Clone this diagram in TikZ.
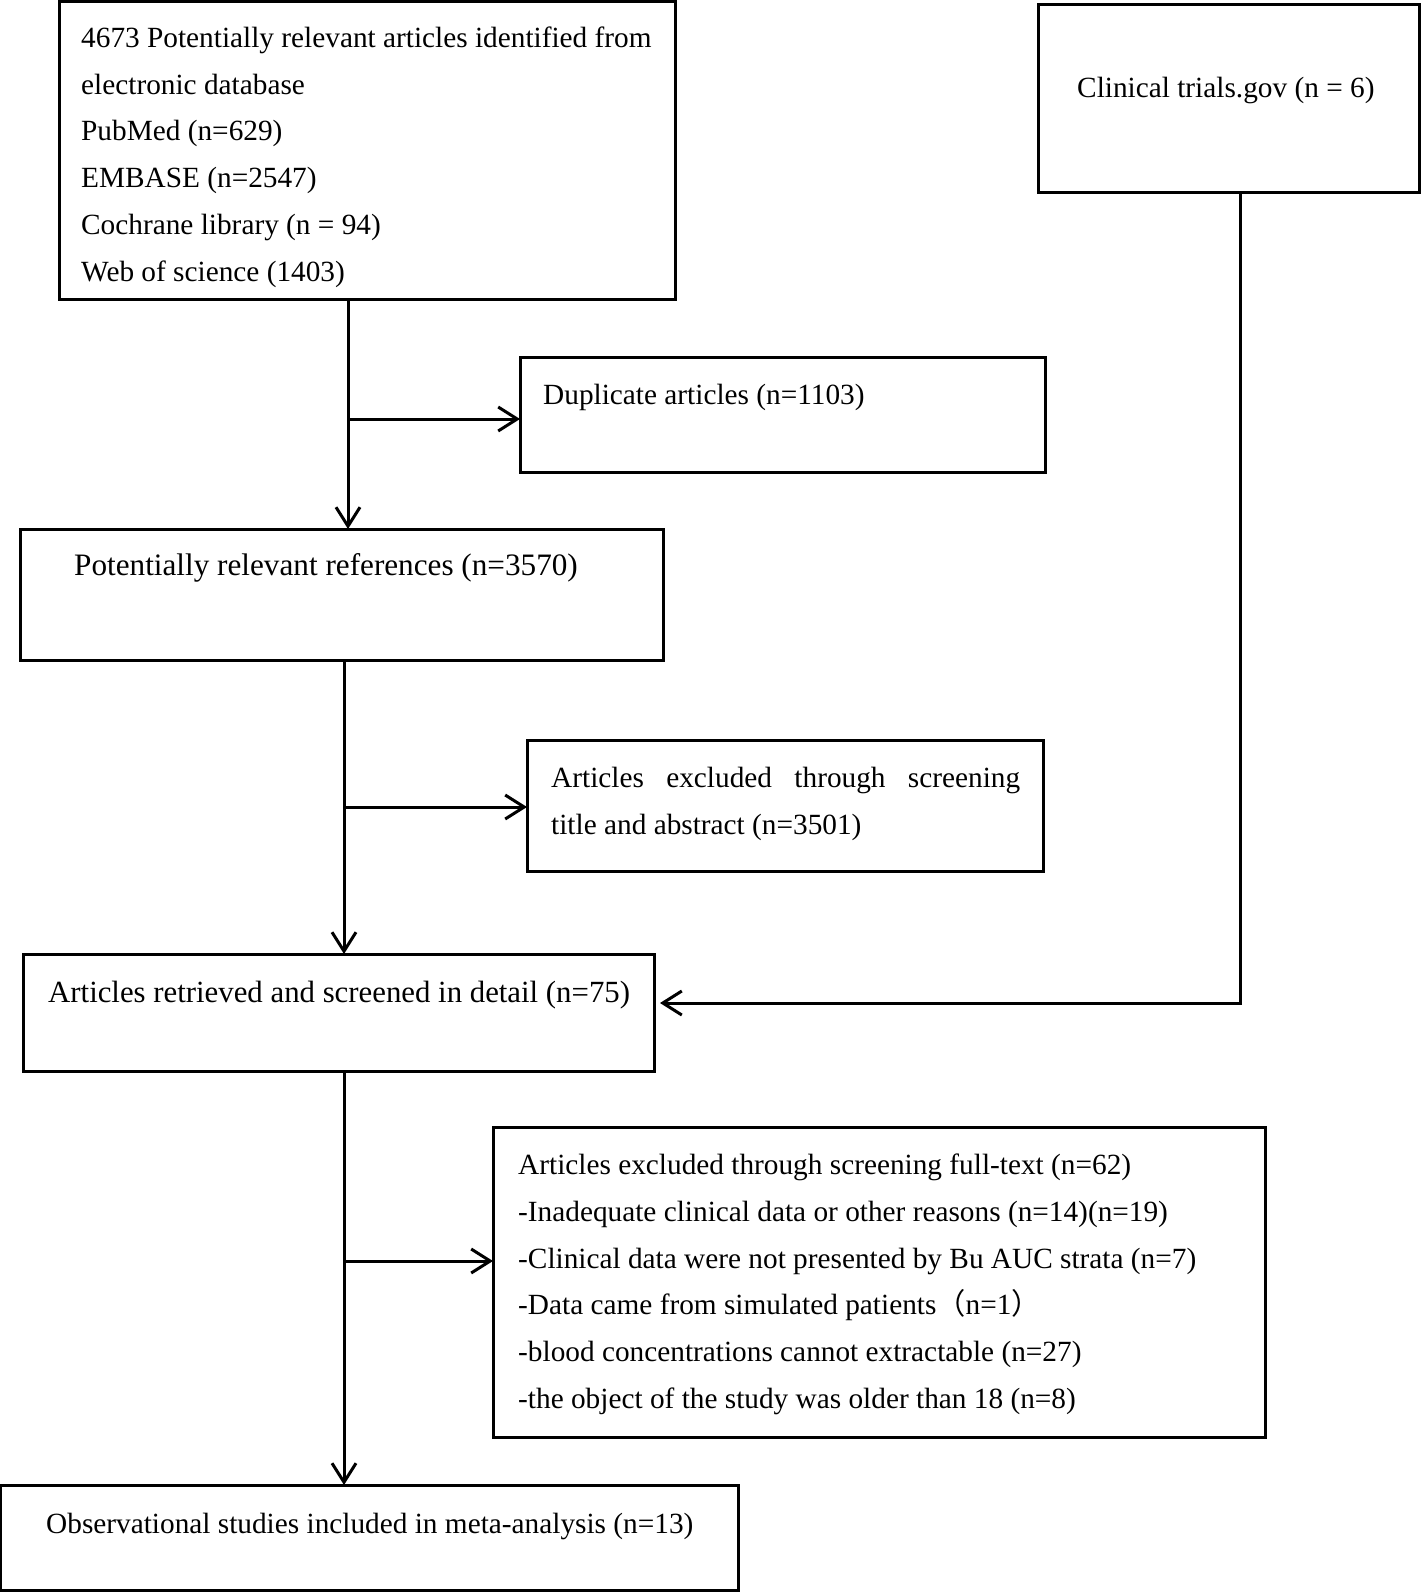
\documentclass[tikz,border=0pt]{standalone}
\usepackage{fontspec}
\setmainfont{Liberation Serif}
\newfontfamily\cjk{Noto Sans CJK SC}
\usetikzlibrary{arrows.meta}
\begin{document}
\begin{tikzpicture}[x=1pt,y=-1pt,
  box/.style={draw,line width=3pt,inner sep=0pt,outer sep=0pt},
  txt/.style={anchor=base west,inner sep=0pt,font=\fontsize{29.3}{35}\selectfont},
  bigtxt/.style={txt,font=\fontsize{31.2}{37}\selectfont},
  midtxt/.style={txt,font=\fontsize{30.8}{37}\selectfont},
  arr/.style={line width=3pt,-{Straight Barb[length=19pt,width=24pt,line width=3pt]}}]
\useasboundingbox (0,0) rectangle (1421,1592);
% boxes
\node[box,minimum width=616pt,minimum height=297pt] (b1) at (367,150.5) {};
\node[box,minimum width=381pt,minimum height=187pt] (ct) at (1228.5,98.5) {};
\node[box,minimum width=525pt,minimum height=115pt] (dup) at (782.5,414.5) {};
\node[box,minimum width=643pt,minimum height=131pt] (b2) at (341.5,594.5) {};
\node[box,minimum width=516pt,minimum height=131pt] (ex1) at (785,805.5) {};
\node[box,minimum width=631pt,minimum height=117pt] (b3) at (338.5,1012.5) {};
\node[box,minimum width=772pt,minimum height=310pt] (ex2) at (879,1282) {};
\node[box,minimum width=738pt,minimum height=105pt] (b4) at (369,1537.5) {};
% texts
\node[txt] (t11) at (81,47.6) {4673 Potentially relevant articles identified from};
\node[txt] (t12) at (81,94.2) {electronic database};
\node[txt] (t13) at (81,141) {PubMed (n=629)};
\node[txt] (t14) at (81,187.6) {EMBASE (n=2547)};
\node[txt] (t15) at (81,234.3) {Cochrane library (n = 94)};
\node[txt] (t16) at (81,281) {Web of science (1403)};
\node[txt] (tct) at (1077,98) {Clinical trials.gov (n = 6)};
\node[txt] (tdup) at (543,404) {Duplicate articles (n=1103)};
\node[bigtxt] (tb2) at (74,575) {Potentially relevant references (n=3570)};
\node[txt] (te11) at (551,787) {\makebox[469pt][s]{Articles excluded through screening}};
\node[txt] (te12) at (551,834) {title and abstract (n=3501)};
\node[midtxt] (tb3) at (48,1002) {Articles retrieved and screened in detail (n=75)};
\node[txt] (te21) at (518,1174) {Articles excluded through screening full-text (n=62)};
\node[txt] (te22) at (518,1221) {-Inadequate clinical data or other reasons (n=14)(n=19)};
\node[txt] (te23) at (518,1268) {-Clinical data were not presented by Bu AUC strata (n=7)};
\node[txt] (te24) at (518,1314) {-Data came from simulated patients{\cjk （}n=1{\cjk ）}};
\node[txt] (te25) at (518,1361) {-blood concentrations cannot extractable (n=27)};
\node[txt] (te26) at (518,1408) {-the object of the study was older than 18 (n=8)};
\node[txt] (tb4) at (46,1533) {Observational studies included in meta-analysis (n=13)};
% connectors
\coordinate (v1) at (348,419);
\coordinate (v2) at (344,807);
\coordinate (v3) at (344,1261);
\coordinate (c1) at (1240,1003);
\draw[arr] (v1 |- b1.south) -- (v1 |- b2.north);
\draw[arr] (v1) -- (v1 -| dup.west);
\draw[arr] (v2 |- b2.south) -- (v2 |- b3.north);
\draw[arr] (v2) -- (v2 -| ex1.west);
\draw[arr] (v3 |- b3.south) -- (v3 |- b4.north);
\draw[arr] (v3) -- (v3 -| ex2.west);
\draw[arr] (c1 |- ct.south) -- (c1) -- ([xshift=6pt]c1 -| b3.east);
\end{tikzpicture}
\end{document}
